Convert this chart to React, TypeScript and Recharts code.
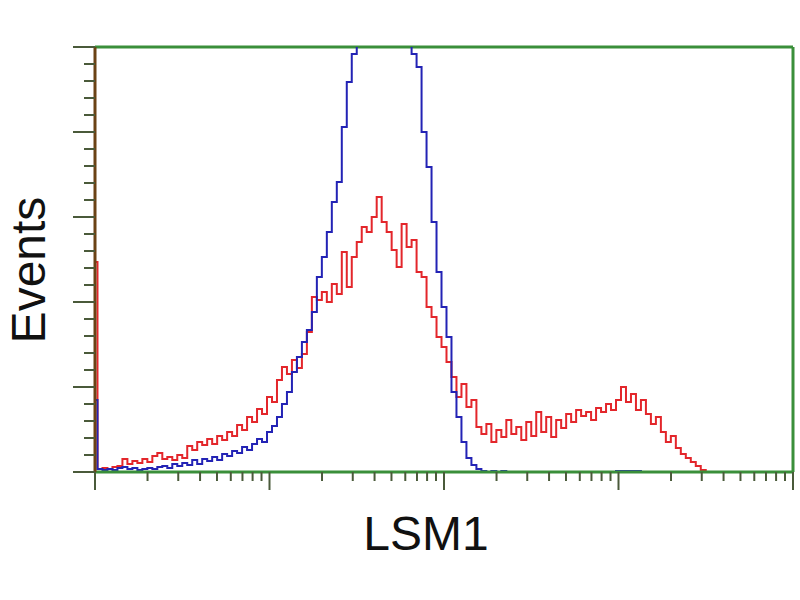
import { Line, LineChart, ReferenceLine, XAxis, YAxis } from "recharts";

// histogram channels, 4 log decades of 35 bins each
const bins: number[] = Array.from({ length: 141 }, (_, i) => i);

// isotype control (blue) — events per bin
const control = [
  72, 3, 2, 3, 2, 4, 5, 3, 4, 2, 3, 4, 3, 5, 6, 4, 8, 6, 9, 7,
  12, 8, 13, 11, 15, 12, 18, 16, 21, 19, 25, 22, 28, 33, 30, 40, 46, 55, 68, 80,
  100, 115, 130, 142, 160, 195, 215, 240, 270, 290, 345, 390, 418, 470, 500, 540, 570, 590, 580, 560,
  540, 520, 480, 440, 418, 405, 340, 305, 250, 200, 165, 135, 80, 55, 30, 14, 7, 3, 1, 0,
  1, 0, 1, 0, 0, 0, 0, 0, 0, 0, 0, 0, 0, 0, 0, 0, 0, 0, 0, 0,
  0, 0, 0, 0, 0, 1, 1, 1, 1, 1, 0, 0, 0, 0, 0, 0, 0, 0, 0, 0,
  0, 0, 0, 0, 0, 0, 0, 0, 0, 0, 0, 0, 0, 0, 0, 0, 0, 0, 0, 0, 0,
];

// LSM1 stained (red)
const stained = [
  210, 3, 4, 3, 5, 6, 13, 8, 11, 9, 13, 10, 16, 19, 13, 15, 12, 17, 14, 26,
  22, 30, 27, 33, 28, 36, 32, 40, 36, 47, 42, 55, 50, 63, 58, 75, 70, 92, 105, 98,
  112, 104, 118, 140, 175, 172, 180, 170, 188, 178, 220, 185, 215, 230, 245, 240, 255, 275, 250, 240,
  222, 205, 248, 225, 232, 200, 195, 165, 155, 135, 125, 110, 95, 75, 88, 65, 72, 45, 38, 48,
  30, 42, 35, 52, 38, 45, 32, 50, 36, 60, 40, 55, 35, 52, 44, 58, 50, 62, 56, 60,
  52, 64, 60, 68, 62, 72, 85, 70, 78, 62, 72, 58, 48, 55, 40, 30, 36, 24, 18, 14,
  10, 6, 2, 0, 0, 0, 0, 0, 0, 0, 0, 0, 0, 0, 0, 0, 0, 0, 0, 0, 0,
];

const decades = [0, 1, 2, 3, 4];
const steps = [1, 2, 3, 4, 5, 6, 7, 8, 9];
const yMax = 425;
const yMajorStep = 85;
const yMinorStep = 17;

const rows = bins.map((b, i) => ({ bin: b, control: control[i], stained: stained[i] }));

const xTicks: number[] = [];
decades.forEach((d) => {
  if (d === 4) {
    xTicks.push(140);
    return;
  }
  steps.forEach((k) => xTicks.push(35 * (d + Math.log10(k))));
});

const yTicks: number[] = [];
for (let v = 0; v <= yMax; v += yMinorStep) yTicks.push(v);

const GREEN = "#3a8f3a";
const FONT = "'Liberation Sans', Arial, sans-serif";

function XTick(props: any) {
  const { x, y, payload } = props;
  const major = Math.abs(payload.value / 35 - Math.round(payload.value / 35)) < 1e-6;
  return <line x1={x} x2={x} y1={y} y2={y + (major ? 18 : 9)} stroke="#4a5a3a" strokeWidth={2} />;
}

function YTick(props: any) {
  const { x, y, payload } = props;
  const major = payload.value % yMajorStep === 0;
  return <line x1={x - (major ? 22 : 11)} x2={x} y1={y} y2={y} stroke="#4a5a3a" strokeWidth={2} />;
}

export default function App() {
  return (
    <div style={{ position: "absolute", left: 0, top: 0, width: 800, height: 600, background: "#fff" }}>
      <LineChart width={800} height={600} data={rows} margin={{ top: 47, right: 7, left: 0, bottom: 0 }}>
        <XAxis
          dataKey="bin"
          type="number"
          domain={[0, 140]}
          ticks={xTicks}
          interval={0}
          height={128}
          tickSize={0}
          tickMargin={0}
          tickLine={false}
          tick={<XTick />}
          axisLine={{ stroke: GREEN, strokeWidth: 3 }}
          allowDataOverflow
          label={{
            content: () => (
              <text x={426} y={550} textAnchor="middle" fontSize={48} fontFamily={FONT} fill="#111">
                LSM1
              </text>
            ),
          }}
        />
        <YAxis
          type="number"
          domain={[0, yMax]}
          ticks={yTicks}
          interval={0}
          width={95}
          tickSize={0}
          tickMargin={0}
          tickLine={false}
          tick={<YTick />}
          axisLine={{ stroke: "#6b4215", strokeWidth: 3 }}
          allowDataOverflow
          label={{
            content: () => (
              <text
                x={45}
                y={270}
                textAnchor="middle"
                fontSize={48}
                fontFamily={FONT}
                fill="#111"
                transform="rotate(-90 45 270)"
              >
                Events
              </text>
            ),
          }}
        />
        <ReferenceLine y={yMax} stroke={GREEN} strokeWidth={3} />
        <ReferenceLine x={140} stroke={GREEN} strokeWidth={3} />
        <Line
          type="step"
          dataKey="stained"
          stroke="#e3262b"
          strokeWidth={2}
          dot={false}
          isAnimationActive={false}
        />
        <Line
          type="step"
          dataKey="control"
          stroke="#2323b5"
          strokeWidth={2}
          dot={false}
          isAnimationActive={false}
        />
      </LineChart>
    </div>
  );
}
